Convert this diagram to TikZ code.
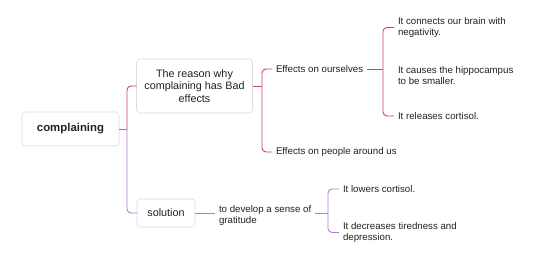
\documentclass[tikz,border=0pt]{standalone}
\usepackage{fontspec}
\setmainfont{Liberation Sans}
\definecolor{pinkc}{HTML}{C8427A}
\definecolor{purpc}{HTML}{B77CCB}
\definecolor{midc}{HTML}{C060A8}
\definecolor{boxb}{HTML}{DCDCDC}
\definecolor{txt}{HTML}{222222}
\begin{document}
\begin{tikzpicture}[x=1pt,y=-1pt,
  box/.style={draw=boxb,line width=0.6pt,fill=white,rounded corners=3.5pt,align=center,
    font=\fontsize{10.8}{12.5}\selectfont,text=txt,inner sep=0pt,outer sep=0pt},
  leaf/.style={anchor=west,align=left,inner sep=0pt,outer sep=4pt,
    font=\fontsize{9.7}{11}\selectfont,text=txt},
  conn/.style={line width=0.9pt,rounded corners=4pt}]
\useasboundingbox (0,0) rectangle (554,267);
\fill[white] (0,0) rectangle (554,267);
% main boxes
\node[box,minimum width=97,minimum height=34,font=\fontsize{11.4}{13}\selectfont\bfseries] (root) at (70.5,129) {complaining};
\node[box,minimum width=116,minimum height=54] (reason) at (194.5,86) {The reason why\\complaining has Bad\\effects};
\node[box,minimum width=58,minimum height=28] (sol) at (166,213) {solution};
% leaves
\node[leaf] (eo) at (272,69) {Effects on ourselves};
\node[leaf] (ep) at (272,152) {Effects on people around us};
\node[leaf] (i1) at (394,27.5) {It connects our brain with\\negativity.};
\node[leaf] (i2) at (394,75.5) {It causes the hippocampus\\to be smaller.};
\node[leaf] (i3) at (394,116) {It releases cortisol.};
\node[leaf] (dev) at (215,215) {to develop a sense of\\gratitude};
\node[leaf] (l1) at (339,189) {It lowers cortisol.};
\node[leaf] (l2) at (339,232.5) {It decreases tiredness and\\depression.};
% junctions
\coordinate (rj) at (127,129);
\coordinate (bj) at (262,86);
\coordinate (cj) at (383,70);
\coordinate (dj) at (328,213);
% connectors
\draw[conn,midc] (root.east) -- (rj);
\draw[conn,pinkc] (reason.west) -| (rj);
\draw[conn,purpc] (rj) |- (sol.west);
\draw[conn,pinkc] (reason.east) -- (bj);
\draw[conn,pinkc] (eo.west) -| (bj) |- (ep.west);
\draw[conn,pinkc] (eo.east) -- (eo.east -| cj);
\draw[conn,pinkc] (i1.west) -| (cj) |- (i3.west);
\draw[conn,purpc] (sol.east) -- (sol.east -| dev.west);
\draw[conn,purpc] (dev.east |- dj) -- (dj);
\draw[conn,purpc] (l1.west) -| (dj) |- (l2.west);
\end{tikzpicture}
\end{document}
